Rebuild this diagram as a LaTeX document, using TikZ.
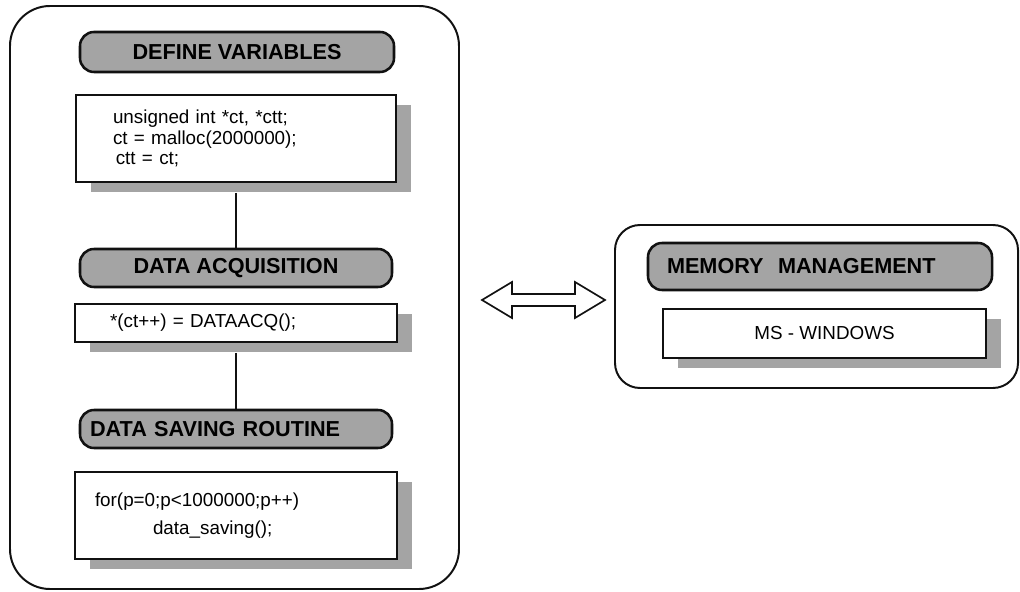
\documentclass[tikz,border=0pt]{standalone}
\usepackage{fontspec}
\setmainfont{Liberation Sans}
\usetikzlibrary{calc,shadows}
\definecolor{raster}{HTML}{A4A4A4}
\definecolor{linie}{HTML}{111111}
\tikzset{
  rahmen/.style={draw=linie,line width=1.4pt,inner sep=0pt},
  titel/.style={draw=linie,fill=raster,line width=1.8pt,rounded corners=0.35cm,inner sep=0pt,font=\fontsize{15.4}{17}\selectfont\bfseries},
  kasten/.style={draw=linie,fill=white,line width=1.3pt,inner sep=0pt,font=\fontsize{13.4}{14.6}\selectfont,
    general shadow={fill=raster,shadow xshift=0.375cm,shadow yshift=-0.25cm}},
  verb/.style={linie,line width=1.2pt},
  doppel/.style={draw=linie,fill=white,line width=1.2pt,line join=miter},
}

\begin{document}
\begin{tikzpicture}
  \useasboundingbox (0,0) rectangle (25.5,14.775);
  \node[rahmen,rounded corners=1cm,minimum width=11.225cm,minimum height=14.575cm] (links) at (5.8625,7.3375) {};
  \node[rahmen,rounded corners=0.625cm,minimum width=10.075cm,minimum height=4.075cm] (rechts) at (20.4125,7.1125) {};
  \node[titel,minimum width=7.85cm,minimum height=1.0cm] (t1) at (5.925,13.475) {DEFINE VARIABLES};
  \node[kasten,minimum height=2.175cm,text width=6.15cm,inner xsep=0.925cm,align=left] (def) at (5.9,11.3125)
    {unsigned int *ct, *ctt;\\ ct = malloc(2000000);\\ \hspace*{2pt}ctt = ct;};
  \node[titel,minimum width=7.8cm,minimum height=0.95cm] (t2) at (5.9,8.075) {DATA ACQUISITION};
  \node[kasten,minimum height=0.95cm,text width=6.3cm,inner xsep=0.875cm,align=left] (acq) at (5.9,6.7)
    {*(ct++) = DATAACQ();};
  \node[titel,minimum height=0.95cm,text width=7.3cm,inner xsep=0.25cm,align=left] (t3) at (5.9,4.05) {DATA SAVING ROUTINE};
  \node[kasten,minimum height=2.175cm,text width=7.05cm,inner xsep=0.5cm,align=left] (sav) at (5.9,1.8875)
    {for(p=0;p<1000000;p++)\\[5pt] \hspace*{1.45cm}data\_saving();};
  \draw[verb] ([yshift=-0.25cm]def.south) -- (t2.north);
  \draw[verb] ([yshift=-0.25cm]acq.south) -- (t3.north);
  \node[titel,minimum height=1.175cm,text width=7.65cm,inner xsep=0.475cm,align=left] (t4) at (20.5,8.1125) {MEMORY\ \ MANAGEMENT};
  \node[kasten,minimum width=8.075cm,minimum height=1.225cm] (win) at (20.6125,6.4375) {MS - WINDOWS};
  \coordinate (la) at (12.05,7.275);
  \coordinate (ra) at (15.125,7.275);
  \draw[doppel] (la) -- ++(0.75,0.45) -- ++(0,-0.3) -- ($(ra)+(-0.75,0.15)$) -- ++(0,0.3) -- (ra)
    -- ++(-0.75,-0.45) -- ++(0,0.3) -- ($(la)+(0.75,-0.15)$) -- ++(0,-0.3) -- cycle;
\end{tikzpicture}
\end{document}
